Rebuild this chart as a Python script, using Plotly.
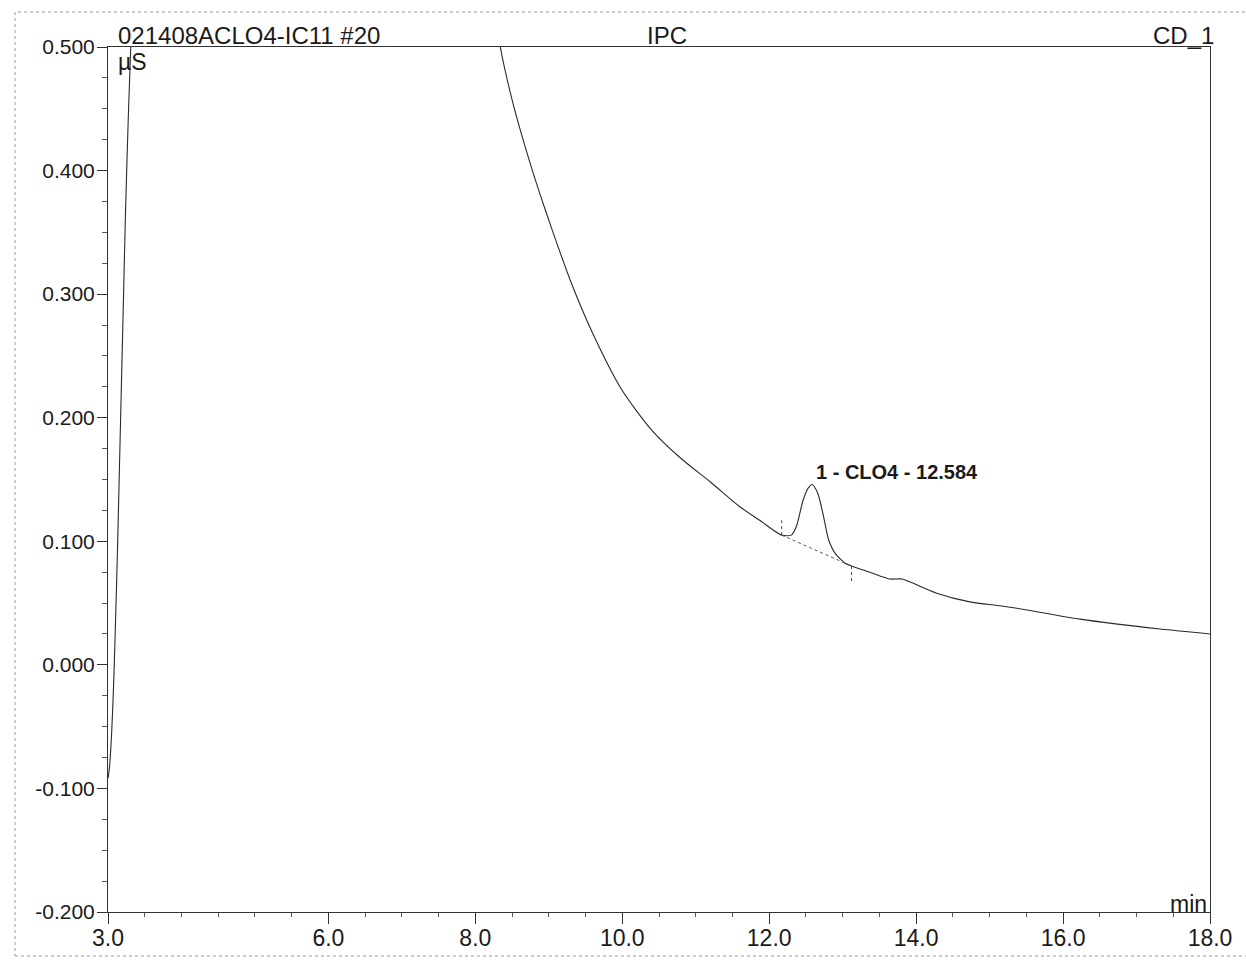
import plotly.graph_objects as go

# Conductivity trace (CD_1), time in min, signal in µS
time_min = [3.00, 3.02, 3.05, 3.08, 3.10, 3.13, 3.16, 3.20, 3.24, 3.28, 3.31, 3.34, 3.40,
            8.20, 8.34, 8.51, 8.70, 8.88, 9.04, 9.30, 9.60, 10.00, 10.40, 10.80, 11.20,
            11.60, 11.87, 12.17, 12.30, 12.37, 12.46, 12.53, 12.584, 12.66, 12.74, 12.81,
            12.90, 13.04, 13.12, 13.37, 13.64, 13.81, 13.92, 14.28, 14.73, 15.14, 15.37,
            16.23, 17.32, 18.00]
signal_us = [-0.092, -0.083, -0.055, -0.010, 0.030, 0.095, 0.170, 0.270, 0.370, 0.450, 0.500,
             0.560, 0.700,
             0.560, 0.500, 0.455, 0.415, 0.381, 0.353, 0.310, 0.268, 0.222, 0.190, 0.167, 0.148,
             0.128, 0.117, 0.105, 0.105, 0.112, 0.133, 0.143, 0.146, 0.139, 0.120, 0.101,
             0.090, 0.082, 0.080, 0.075, 0.0695, 0.0695, 0.067, 0.058, 0.051, 0.0478, 0.0458,
             0.037, 0.029, 0.025]

# Integrated peak
peak_no = 1
peak_name = "CLO4"
peak_rt = 12.584
peak_top = 0.146
peak_start = (12.17, 0.105)
peak_end = (13.12, 0.080)

x_tickvals = [3.0, 6.0, 8.0, 10.0, 12.0, 14.0, 16.0, 18.0]
y_tickvals = [-0.2, -0.1, 0.0, 0.1, 0.2, 0.3, 0.4, 0.5]

FONT = "Liberation Sans, Arial, sans-serif"
INK = "#1a1a1a"

# plot-area geometry in pixels
W, H = 1246, 962
L, R, T, B = 108, 1210, 47, 912


def px(x):
    return (x - L) / (R - L)


def py(y):
    return (B - y) / (B - T)


fig = go.Figure()

fig.add_trace(go.Scatter(
    x=time_min, y=signal_us, mode="lines",
    line=dict(color="#2a2a2a", width=1.1, shape="spline", smoothing=0.7),
    hoverinfo="skip", showlegend=False,
))

# baseline under the peak
fig.add_trace(go.Scatter(
    x=[peak_start[0], peak_end[0]], y=[peak_start[1], peak_end[1]], mode="lines",
    line=dict(color="#555555", width=1, dash="dot"),
    hoverinfo="skip", showlegend=False,
))

# integration limit markers
fig.add_shape(type="line", x0=peak_start[0], x1=peak_start[0],
              y0=peak_start[1], y1=peak_start[1] + 0.012,
              line=dict(color="#444444", width=1, dash="dot"))
fig.add_shape(type="line", x0=peak_end[0], x1=peak_end[0],
              y0=peak_end[1], y1=peak_end[1] - 0.013,
              line=dict(color="#444444", width=1, dash="dot"))

fig.add_annotation(
    x=peak_rt, y=peak_top, xanchor="left", yanchor="bottom",
    xshift=2, yshift=-1, showarrow=False,
    text=f"<b>{peak_no} - {peak_name} - {peak_rt:.3f}</b>",
    font=dict(family=FONT, size=20, color=INK),
)

# header texts
for txt, x, anchor in [("021408ACLO4-IC11 #20", px(116), "left"),
                       ("IPC", px(667), "center"),
                       ("CD_1", px(1216), "right")]:
    fig.add_annotation(x=x, y=py(35), xref="paper", yref="paper",
                       xanchor=anchor, yanchor="middle", showarrow=False,
                       text=txt, font=dict(family=FONT, size=24, color=INK))

fig.add_annotation(x=px(116), y=py(62), xref="paper", yref="paper",
                   xanchor="left", yanchor="middle", showarrow=False,
                   text="µS", font=dict(family=FONT, size=23, color=INK))
fig.add_annotation(x=px(1209), y=py(904), xref="paper", yref="paper",
                   xanchor="right", yanchor="middle", showarrow=False,
                   text="min", font=dict(family=FONT, size=23, color=INK))

# dotted outer page frame
frame = dict(color="#9a9a9a", width=1, dash="dot")
fig.add_shape(type="line", xref="paper", yref="paper",
              x0=px(18), x1=px(1246), y0=py(12), y1=py(12), line=frame)
fig.add_shape(type="line", xref="paper", yref="paper",
              x0=px(15), x1=px(15), y0=py(12), y1=py(956), line=frame)
fig.add_shape(type="line", xref="paper", yref="paper",
              x0=px(15), x1=px(1246), y0=py(956), y1=py(956), line=frame)

fig.update_xaxes(
    range=[3.0, 18.0], showgrid=False, zeroline=False,
    showline=True, linecolor="#333333", linewidth=1, mirror=True,
    tickvals=x_tickvals, ticktext=[f"{v:.1f}" for v in x_tickvals],
    ticks="outside", ticklen=11, tickcolor="#333333", tickwidth=1,
    ticklabelstandoff=-6,
    minor=dict(dtick=0.5, tick0=3.0, ticks="outside", ticklen=4,
               tickcolor="#555555", showgrid=False),
    tickfont=dict(family=FONT, size=23, color=INK),
)
fig.update_yaxes(
    range=[-0.2, 0.5], showgrid=False, zeroline=False,
    showline=True, linecolor="#333333", linewidth=1, mirror=True,
    tickvals=y_tickvals, ticktext=[f"{v:.3f}" for v in y_tickvals],
    ticks="outside", ticklen=10, tickcolor="#333333", tickwidth=1,
    ticklabelstandoff=-2,
    minor=dict(dtick=0.025, tick0=0.0, ticks="outside", ticklen=5,
               tickcolor="#555555", showgrid=False),
    tickfont=dict(family=FONT, size=21, color=INK),
)

fig.update_layout(
    width=W, height=H,
    margin=dict(l=L, r=W - R, t=T, b=H - B),
    paper_bgcolor="white", plot_bgcolor="white",
    showlegend=False,
)

fig.write_html("out.html")
